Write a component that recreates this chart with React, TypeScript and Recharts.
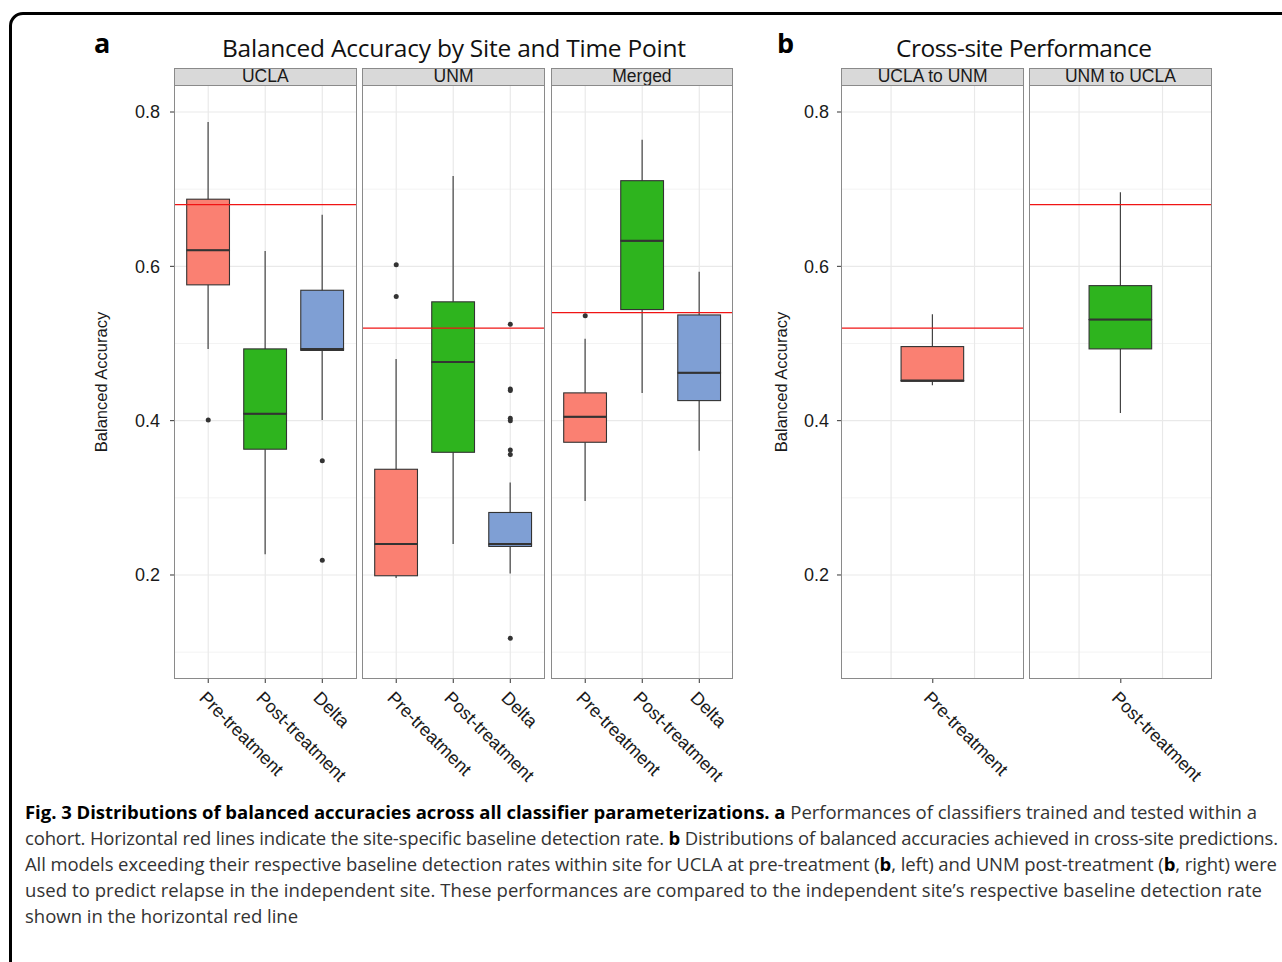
import React from 'react';
import {
  ComposedChart,
  Bar,
  Scatter,
  XAxis,
  YAxis,
  CartesianGrid,
  ReferenceLine,
} from 'recharts';

// Box stats are [lower whisker, q1, median, q3, upper whisker]
const TIME_POINTS = ['Pre-treatment', 'Post-treatment', 'Delta'];

const UCLA_BOXES = [
  [0.493, 0.576, 0.621, 0.687, 0.787],
  [0.227, 0.363, 0.409, 0.493, 0.62],
  [0.401, 0.491, 0.493, 0.569, 0.667],
];
const UCLA_OUTLIERS = [[0.401], [], [0.348, 0.219]];

const UNM_BOXES = [
  [0.196, 0.199, 0.24, 0.337, 0.48],
  [0.24, 0.359, 0.476, 0.554, 0.717],
  [0.202, 0.237, 0.24, 0.281, 0.32],
];
const UNM_OUTLIERS = [[0.602, 0.561], [], [0.525, 0.441, 0.439, 0.403, 0.4, 0.362, 0.356, 0.118]];

const MERGED_BOXES = [
  [0.296, 0.372, 0.405, 0.436, 0.506],
  [0.436, 0.544, 0.633, 0.711, 0.764],
  [0.361, 0.426, 0.462, 0.537, 0.593],
];
const MERGED_OUTLIERS = [[0.536], [], []];

const UCLA_TO_UNM_POINTS = ['Pre-treatment'];
const UCLA_TO_UNM_BOXES = [[0.446, 0.451, 0.452, 0.496, 0.538]];
const UNM_TO_UCLA_POINTS = ['Post-treatment'];
const UNM_TO_UCLA_BOXES = [[0.41, 0.493, 0.531, 0.575, 0.696]];

// site-specific baseline detection rates (red lines)
const BASELINES: Record<string, number> = {
  UCLA: 0.68,
  UNM: 0.52,
  Merged: 0.54,
  'UCLA to UNM': 0.52,
  'UNM to UCLA': 0.68,
};

const Y_TICKS = [0.2, 0.4, 0.6, 0.8];
const Y_MINOR = [0.1, 0.3, 0.5, 0.7];

const FILLS: Record<string, string> = {
  'Pre-treatment': '#FA8072',
  'Post-treatment': '#2EB41E',
  Delta: '#7F9FD4',
};

const AXIS_FONT = '"Liberation Sans", Arial, Helvetica, sans-serif';
const TEXT_FONT = '"Open Sans", "Noto Sans", sans-serif';
const Y_DOMAIN: [number, number] = [0.0652, 0.835];
const PLOT_TOP = 85;
const PLOT_H = 594;
const AXIS_H = 120;
const Y_W = 60;
const INK = '#333333';

const toRows = (names: string[], boxes: number[][]) =>
  names.map((name, i) => {
    const [lo, q1, med, q3, hi] = boxes[i];
    return { name, base: lo, w1: q1 - lo, low: med - q1, high: q3 - med, w2: hi - q3 };
  });

const toPoints = (outliers: number[][]) =>
  outliers.flatMap((vals, i) => vals.map((v) => ({ g: i + 1, v })));

const Empty = () => <g />;

const Whisker = (p: any) => {
  const cx = p.x + p.width / 2;
  return <line x1={cx} x2={cx} y1={p.y} y2={p.y + p.height} stroke={INK} strokeWidth={1.1} />;
};

const LowerBox = (p: any) => (
  <rect
    x={p.x}
    y={p.y}
    width={p.width}
    height={Math.max(p.height, 0)}
    fill={FILLS[p.payload.name]}
    stroke={INK}
    strokeWidth={1.1}
  />
);

const UpperBox = (p: any) => (
  <g>
    <rect
      x={p.x}
      y={p.y}
      width={p.width}
      height={Math.max(p.height, 0)}
      fill={FILLS[p.payload.name]}
      stroke={INK}
      strokeWidth={1.1}
    />
    <line x1={p.x} x2={p.x + p.width} y1={p.y + p.height} y2={p.y + p.height} stroke={INK} strokeWidth={2} />
  </g>
);

const Dot = (p: any) => <circle cx={p.cx} cy={p.cy} r={2.5} fill={INK} />;

const SlantTick = (p: any) => (
  <text
    transform={`translate(${p.x - 10},${p.y + 14}) rotate(45)`}
    textAnchor="start"
    fontSize={18}
    fontFamily={AXIS_FONT}
    fill="#1a1a1a"
  >
    {p.payload.value}
  </text>
);

interface FacetProps {
  label: string;
  names: string[];
  boxes: number[][];
  outliers: number[][];
  left: number;
  width: number;
  units: number;
  gridTicks: number[];
  showY?: boolean;
  yTickMargin?: number;
}

const Facet: React.FC<FacetProps> = ({
  label,
  names,
  boxes,
  outliers,
  left,
  width,
  units,
  gridTicks,
  showY,
  yTickMargin = 10,
}) => {
  const u = width / units;
  const pad = (width - names.length * u) / 2;
  const barSize = 0.75 * u;
  const yw = showY ? Y_W : 0;
  const rows = toRows(names, boxes);
  const points = toPoints(outliers);
  const gridDomain: [number, number] = [0.4, 0.4 + units];

  return (
    <>
      <div
        style={{
          position: 'absolute',
          left,
          top: 68,
          width,
          height: 17.5,
          boxSizing: 'border-box',
          background: '#d9d9d9',
          border: '1px solid #8a8a8a',
          fontFamily: AXIS_FONT,
          fontSize: 17.5,
          lineHeight: '15px',
          textAlign: 'center',
          color: '#1a1a1a',
        }}
      >
        {label}
      </div>
      <div style={{ position: 'absolute', left: left - yw, top: PLOT_TOP }}>
        <ComposedChart
          width={width + yw}
          height={PLOT_H + AXIS_H}
          data={rows}
          margin={{ top: 0, right: 0, bottom: 0, left: 0 }}
        >
          <XAxis
            dataKey="name"
            interval={0}
            padding={{ left: pad, right: pad }}
            height={AXIS_H}
            axisLine={false}
            tickSize={4}
            tickMargin={2}
            tickLine={{ stroke: INK }}
            tick={<SlantTick />}
          />
          <XAxis xAxisId="grid" type="number" dataKey="g" domain={gridDomain} allowDataOverflow ticks={gridTicks} hide />
          <YAxis
            type="number"
            domain={Y_DOMAIN}
            allowDataOverflow
            ticks={Y_TICKS}
            tickFormatter={(v: number) => v.toFixed(1)}
            width={Y_W}
            hide={!showY}
            axisLine={false}
            tickSize={4}
            tickMargin={yTickMargin}
            tickLine={{ stroke: INK }}
            tick={{ fontSize: 18, fill: '#1a1a1a', fontFamily: AXIS_FONT }}
          />
          <CartesianGrid xAxisId="grid" stroke="#f3f3f3" strokeWidth={1} vertical={false} horizontalValues={Y_MINOR} />
          <CartesianGrid xAxisId="grid" stroke="#e9e9e9" strokeWidth={1.2} horizontalValues={Y_TICKS} verticalValues={gridTicks} />
          <Bar dataKey="base" stackId="s" barSize={barSize} shape={Empty} isAnimationActive={false} />
          <Bar dataKey="w1" stackId="s" barSize={barSize} shape={Whisker} isAnimationActive={false} />
          <Bar dataKey="low" stackId="s" barSize={barSize} shape={LowerBox} isAnimationActive={false} />
          <Bar dataKey="high" stackId="s" barSize={barSize} shape={UpperBox} isAnimationActive={false} />
          <Bar dataKey="w2" stackId="s" barSize={barSize} shape={Whisker} isAnimationActive={false} />
          <Scatter xAxisId="grid" data={points} dataKey="v" shape={Dot} isAnimationActive={false} />
          <ReferenceLine y={BASELINES[label]} stroke="#f01414" strokeWidth={1.2} />
        </ComposedChart>
      </div>
      <div
        style={{
          position: 'absolute',
          left,
          top: PLOT_TOP,
          width,
          height: PLOT_H,
          boxSizing: 'border-box',
          border: '1px solid #8a8a8a',
          pointerEvents: 'none',
        }}
      />
    </>
  );
};

const A_W = 182.5;
const B_W = 183.6;

const App: React.FC = () => {
  return (
    <div
      style={{
        position: 'absolute',
        left: 0,
        top: 0,
        width: 1282,
        height: 962,
        overflow: 'hidden',
        background: '#fff',
      }}
    >
      <div
        style={{
          position: 'absolute',
          left: 9,
          top: 12,
          width: 1400,
          height: 1100,
          border: '3px solid #000',
          borderRadius: 14,
        }}
      />
      <svg width={1282} height={962} style={{ position: 'absolute', left: 0, top: 0 }}>
        <text x={94} y={53} fontFamily={TEXT_FONT} fontWeight={700} fontSize={27} fill="#000">
          a
        </text>
        <text x={777} y={53} fontFamily={TEXT_FONT} fontWeight={700} fontSize={27} fill="#000">
          b
        </text>
        <text x={222} y={57} fontFamily={TEXT_FONT} fontSize={24.5} fill="#111" textLength={464} lengthAdjust="spacing">
          Balanced Accuracy by Site and Time Point
        </text>
        <text x={896} y={57} fontFamily={TEXT_FONT} fontSize={24.5} fill="#111" textLength={256} lengthAdjust="spacing">
          Cross-site Performance
        </text>
        <text
          transform="translate(107,382) rotate(-90)"
          textAnchor="middle"
          fontFamily={AXIS_FONT}
          fontSize={16.5}
          fill="#1a1a1a"
        >
          Balanced Accuracy
        </text>
        <text
          transform="translate(787,382) rotate(-90)"
          textAnchor="middle"
          fontFamily={AXIS_FONT}
          fontSize={16.5}
          fill="#1a1a1a"
        >
          Balanced Accuracy
        </text>
        <g fontFamily={TEXT_FONT} fontSize={18.5} fill="#333">
          <text x={25} y={819} textLength={1232} lengthAdjust="spacing">
            <tspan fontWeight={700} fill="#000">
              Fig. 3 Distributions of balanced accuracies across all classifier parameterizations.
            </tspan>
            <tspan fontWeight={700} fill="#000">{' a'}</tspan>
            <tspan>{' Performances of classifiers trained and tested within a'}</tspan>
          </text>
          <text x={25} y={845} textLength={1253} lengthAdjust="spacing">
            <tspan>cohort. Horizontal red lines indicate the site-specific baseline detection rate.</tspan>
            <tspan fontWeight={700} fill="#000">{' b'}</tspan>
            <tspan>{' Distributions of balanced accuracies achieved in cross-site predictions.'}</tspan>
          </text>
          <text x={25} y={871} textLength={1252} lengthAdjust="spacing">
            <tspan>All models exceeding their respective baseline detection rates within site for UCLA at pre-treatment (</tspan>
            <tspan fontWeight={700} fill="#000">b</tspan>
            <tspan>, left) and UNM post-treatment (</tspan>
            <tspan fontWeight={700} fill="#000">b</tspan>
            <tspan>, right) were</tspan>
          </text>
          <text x={25} y={897} textLength={1237} lengthAdjust="spacing">
            used to predict relapse in the independent site. These performances are compared to the independent site’s respective baseline detection rate
          </text>
          <text x={25} y={923}>
            shown in the horizontal red line
          </text>
        </g>
      </svg>

      <Facet label="UCLA" names={TIME_POINTS} boxes={UCLA_BOXES} outliers={UCLA_OUTLIERS} left={174} width={A_W} units={3.2} gridTicks={[1, 2, 3]} showY />
      <Facet label="UNM" names={TIME_POINTS} boxes={UNM_BOXES} outliers={UNM_OUTLIERS} left={362.3} width={A_W} units={3.2} gridTicks={[1, 2, 3]} />
      <Facet label="Merged" names={TIME_POINTS} boxes={MERGED_BOXES} outliers={MERGED_OUTLIERS} left={550.7} width={A_W} units={3.2} gridTicks={[1, 2, 3]} />
      <Facet
        label="UCLA to UNM"
        names={UCLA_TO_UNM_POINTS}
        boxes={UCLA_TO_UNM_BOXES}
        outliers={[[]]}
        left={840.8}
        width={B_W}
        units={2.2}
        gridTicks={[1, 2]}
        showY
        yTickMargin={8}
      />
      <Facet
        label="UNM to UCLA"
        names={UNM_TO_UCLA_POINTS}
        boxes={UNM_TO_UCLA_BOXES}
        outliers={[[]]}
        left={1028.6}
        width={B_W}
        units={2.2}
        gridTicks={[1, 2]}
      />
    </div>
  );
};

export default App;
